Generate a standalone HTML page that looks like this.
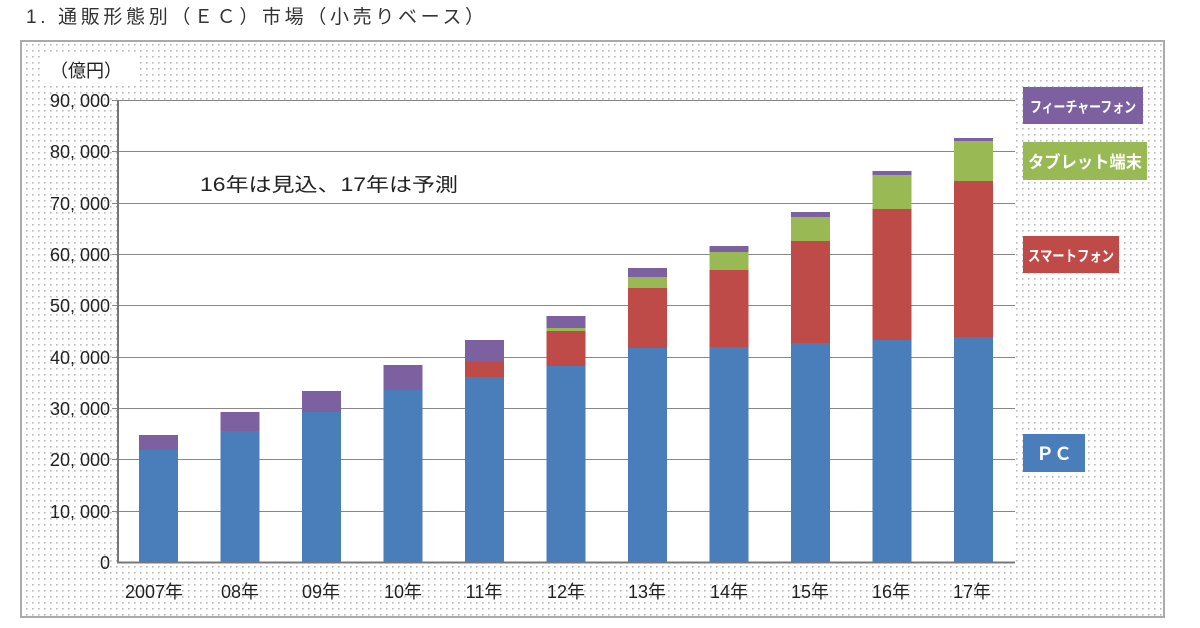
<!DOCTYPE html>
<html><head><meta charset="utf-8"><style>
html,body{margin:0;padding:0;background:#fff;}
svg{display:block;font-family:"Liberation Sans","Noto Sans CJK JP",sans-serif;}
</style></head><body>
<svg width="1200" height="628" viewBox="0 0 1200 628">
<defs>
<pattern id="dots" width="6" height="6" patternUnits="userSpaceOnUse">
<rect x="2" y="2" width="1.6" height="1.6" fill="#b8b8b8"/>
</pattern>
</defs>
<text x="26" y="23" font-size="19" fill="#333" textLength="458" lengthAdjust="spacing">1. 通販形態別（ＥＣ）市場（小売りベース）</text>
<rect x="21" y="41" width="1143" height="576" fill="#fff" stroke="#aaa" stroke-width="2"/>
<rect x="22" y="42" width="1141" height="574" fill="url(#dots)"/>
<rect x="40" y="56" width="100" height="30" fill="#fff"/>
<text x="50" y="77" font-size="18" fill="#222">（億円）</text>
<rect x="118" y="100" width="897" height="462" fill="#fff"/>
<g stroke="#888" stroke-width="1">
<line x1="112" y1="100.5" x2="1015" y2="100.5"/>
<line x1="112" y1="151.5" x2="1015" y2="151.5"/>
<line x1="112" y1="203.5" x2="1015" y2="203.5"/>
<line x1="112" y1="254.5" x2="1015" y2="254.5"/>
<line x1="112" y1="305.5" x2="1015" y2="305.5"/>
<line x1="112" y1="357.5" x2="1015" y2="357.5"/>
<line x1="112" y1="408.5" x2="1015" y2="408.5"/>
<line x1="112" y1="459.5" x2="1015" y2="459.5"/>
<line x1="112" y1="511.5" x2="1015" y2="511.5"/>
</g>
<line x1="118" y1="100" x2="118" y2="563" stroke="#777" stroke-width="2"/>
<line x1="117" y1="562.5" x2="1015" y2="562.5" stroke="#777" stroke-width="2"/>
<g font-size="18" fill="#222" text-anchor="end">
<text x="110" y="107">90, 000</text>
<text x="110" y="158">80, 000</text>
<text x="110" y="210">70, 000</text>
<text x="110" y="261">60, 000</text>
<text x="110" y="312">50, 000</text>
<text x="110" y="364">40, 000</text>
<text x="110" y="415">30, 000</text>
<text x="110" y="466">20, 000</text>
<text x="110" y="518">10, 000</text>
<text x="110" y="569">0</text>
</g>
<text x="200" y="191" font-size="19" fill="#222" textLength="258" lengthAdjust="spacingAndGlyphs">16年は見込、17年は予測</text>
<g>
<g fill="#4a7ebb">
<rect x="139" y="450" width="39" height="112"/>
<rect x="220.5" y="431" width="39" height="131"/>
<rect x="302" y="412" width="39" height="150"/>
<rect x="383.5" y="390" width="39" height="172"/>
<rect x="465" y="377" width="39" height="185"/>
<rect x="546.5" y="366" width="39" height="196"/>
<rect x="628" y="348" width="39" height="214"/>
<rect x="709.5" y="347" width="39" height="215"/>
<rect x="791" y="343" width="39" height="219"/>
<rect x="872.5" y="340" width="39" height="222"/>
<rect x="954" y="337" width="39" height="225"/>
</g>
<g fill="#be4b48">
<rect x="465" y="362" width="39" height="15"/>
<rect x="546.5" y="331" width="39" height="35"/>
<rect x="628" y="288" width="39" height="60"/>
<rect x="709.5" y="270" width="39" height="77"/>
<rect x="791" y="241" width="39" height="102"/>
<rect x="872.5" y="209" width="39" height="131"/>
<rect x="954" y="181" width="39" height="156"/>
</g>
<g fill="#98b954">
<rect x="546.5" y="328" width="39" height="3"/>
<rect x="628" y="277" width="39" height="11"/>
<rect x="709.5" y="252" width="39" height="18"/>
<rect x="791" y="217" width="39" height="24"/>
<rect x="872.5" y="175" width="39" height="34"/>
<rect x="954" y="141" width="39" height="40"/>
</g>
<g fill="#7d60a0">
<rect x="139" y="435" width="39" height="15"/>
<rect x="220.5" y="412" width="39" height="19"/>
<rect x="302" y="391" width="39" height="21"/>
<rect x="383.5" y="365" width="39" height="25"/>
<rect x="465" y="340" width="39" height="22"/>
<rect x="546.5" y="316" width="39" height="12"/>
<rect x="628" y="268" width="39" height="9"/>
<rect x="709.5" y="246" width="39" height="6"/>
<rect x="791" y="212" width="39" height="5"/>
<rect x="872.5" y="171" width="39" height="4"/>
<rect x="954" y="138" width="39" height="3"/>
</g>
</g>
<g font-size="18" fill="#222" text-anchor="middle">
<text x="154" y="598">2007年</text>
<text x="240" y="598">08年</text>
<text x="321" y="598">09年</text>
<text x="403" y="598">10年</text>
<text x="484" y="598">11年</text>
<text x="566" y="598">12年</text>
<text x="647" y="598">13年</text>
<text x="729" y="598">14年</text>
<text x="810" y="598">15年</text>
<text x="891" y="598">16年</text>
<text x="972" y="598">17年</text>
</g>
<rect x="1023" y="87" width="120" height="37" fill="#7d60a0"/>
<text x="1030" y="112" font-size="15" fill="#fff" font-weight="bold" textLength="106" lengthAdjust="spacingAndGlyphs">フィーチャーフォン</text>
<rect x="1023" y="142" width="124" height="38" fill="#98b954"/>
<text x="1028" y="168" font-size="17" fill="#fff" font-weight="bold" textLength="114" lengthAdjust="spacingAndGlyphs">タブレット端末</text>
<rect x="1023" y="236" width="96" height="37" fill="#be4b48"/>
<text x="1028" y="261" font-size="15" fill="#fff" font-weight="bold" textLength="86" lengthAdjust="spacingAndGlyphs">スマートフォン</text>
<rect x="1023" y="434" width="62" height="38" fill="#4a7ebb"/>
<text x="1054" y="460" font-size="18" fill="#fff" font-weight="bold" text-anchor="middle">ＰＣ</text>
</svg>
</body></html>
